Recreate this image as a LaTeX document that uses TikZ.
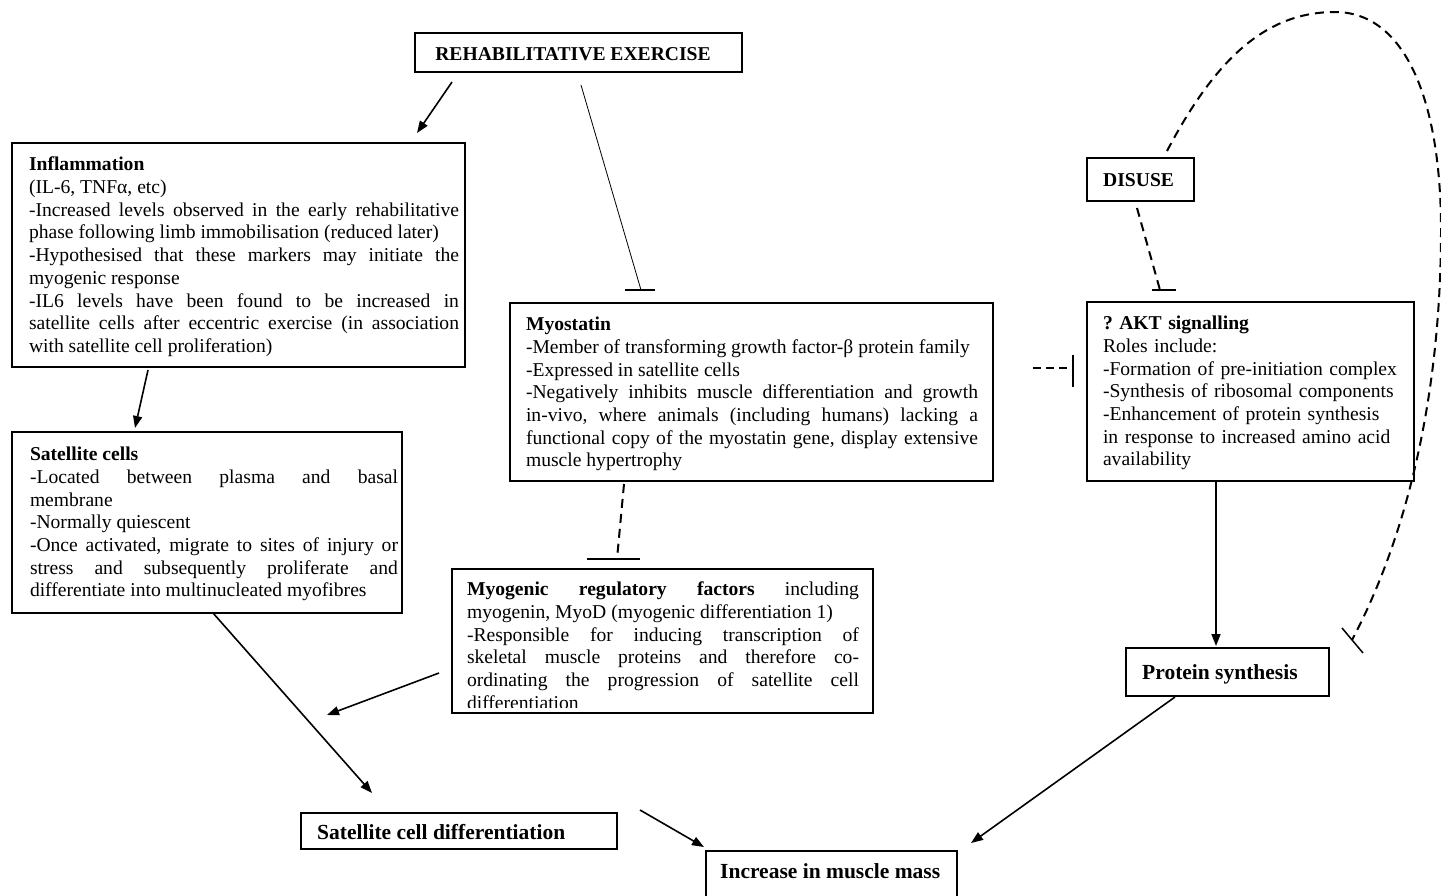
\documentclass[tikz,border=0pt]{standalone}
\usepackage{fontspec}
\setmainfont{Liberation Serif}
\usetikzlibrary{arrows.meta,calc}
\hyphenpenalty=10000
\frenchspacing
\begin{document}
\begin{tikzpicture}[x=1pt,y=-1pt,
  box/.style={draw, line width=1.1pt, anchor=north west, inner sep=0pt, outer sep=0pt},
  body/.style={anchor=north west, inner sep=0pt, outer sep=0pt, font=\fontsize{19.6}{22.7}\selectfont, align=justify},
  head/.style={inner sep=0pt, font=\fontsize{19.6}{22.7}\selectfont\bfseries},
  big/.style={anchor=base west, inner sep=0pt, font=\fontsize{21.5}{24}\selectfont\bfseries},
  arr/.style={line width=1.6pt, -{Triangle[length=12pt,width=9pt]}},
  inh/.style={line width=2pt, dash pattern=on 9pt off 6pt},
  tbar/.style={line width=1.5pt},
]
\useasboundingbox[fill=white] (0,0) rectangle (1441,895);

% boxes
\node[box, minimum width=327pt, minimum height=39pt] (rehab) at (415,33) {};
\node[box, minimum width=453pt, minimum height=224pt] (inf) at (12,143) {};
\node[box, minimum width=483pt, minimum height=178pt] (myo) at (510,303) {};
\node[box, minimum width=107pt, minimum height=43pt] (dis) at (1087,158) {};
\node[box, minimum width=327pt, minimum height=179pt] (akt) at (1087,302) {};
\node[box, minimum width=390pt, minimum height=181pt] (sat) at (12,432) {};
\node[box, minimum width=421pt, minimum height=144pt] (myog) at (452,569) {};
\node[box, minimum width=203pt, minimum height=48pt] (prot) at (1126,648) {};
\node[box, minimum width=316pt, minimum height=36pt] (satdiff) at (301,813) {};
\node[box, minimum width=251pt, minimum height=46pt] (inc) at (706,851) {};

% texts
\node[head, anchor=base] (rehabT) at (573,60) {REHABILITATIVE EXERCISE};
\node[head, anchor=base west] (disT) at (1103,186) {DISUSE};
\node[big] (protT) at (1142,679) {Protein synthesis};
\node[big] (satdiffT) at (317,839) {Satellite cell differentiation};
\node[big] (incT) at (720,878) {Increase in muscle mass};

\node[body, text width=430pt] (infT) at (29,157) {\textbf{Inflammation}\\
(IL-6, TNFα, etc)\\
-Increased levels observed in the early rehabilitative\linebreak
phase following limb immobilisation (reduced later)\\
-Hypothesised that these markers may initiate the\linebreak
myogenic response\\
-IL6 levels have been found to be increased in\linebreak
satellite cells after eccentric exercise (in association\linebreak
with satellite cell proliferation)};

\node[body, text width=452pt] (myoT) at (526,317) {\textbf{Myostatin}\\
-Member of transforming growth factor-β protein family\\
-Expressed in satellite cells\\
-Negatively inhibits muscle differentiation and growth\linebreak
in-vivo, where animals (including humans) lacking a\linebreak
functional copy of the myostatin gene, display extensive\linebreak
muscle hypertrophy};

\node[body, text width=310pt, align=left] (aktT) at (1103,316) {\textbf{? AKT signalling}\\
Roles include:\\
-Formation of pre-initiation complex\\
-Synthesis of ribosomal components\\
-Enhancement of protein synthesis\\
in response to increased amino acid\\
availability};

\node[body, text width=368pt] (satT) at (30,447) {\textbf{Satellite cells}\\
-Located between plasma and basal\linebreak
membrane\\
-Normally quiescent\\
-Once activated, migrate to sites of injury or\linebreak
stress and subsequently proliferate and\linebreak
differentiate into multinucleated myofibres};

\begin{scope}
\clip (440,560) rectangle (880,707);
\node[body, text width=392pt] (myogT) at (467,582) {\textbf{Myogenic regulatory factors} including\linebreak
myogenin, MyoD (myogenic differentiation 1)\\
-Responsible for inducing transcription of\linebreak
skeletal muscle proteins and therefore co-\linebreak
ordinating the progression of satellite cell\linebreak
differentiation};
\end{scope}

% connectors
\draw[arr] ($(rehab.south west)+(37,10)$) -- ($(inf.north east)+(-48,-10)$);
\draw[line width=0.8pt] ($(rehab.south west)+(166,13)$) -- ($(myo.north west)+(131,-13)$);
\draw[tbar] ($(myo.north west)+(115,-13)$) -- ($(myo.north west)+(145,-13)$);

\draw[arr] ($(inf.south west)+(136,3)$) -- ($(sat.north west)+(123,-4)$);

\draw[inh] ($(myo.south west)+(114,3)$) -- ($(myog.north west)+(165,-10)$);
\draw[tbar] ($(myog.north west)+(135,-10)$) -- ($(myog.north west)+(188,-10)$);

\draw[inh, line width=2.4pt, dash pattern=on 8pt off 5pt] ($(myo.north east)+(40,65)$) -- ($(akt.north west)+(-14,66)$);
\draw[tbar] ($(akt.north west)+(-14,53)$) -- ($(akt.north west)+(-14,85)$);

\draw[inh] ($(dis.south west)+(50,7)$) -- ($(akt.north west)+(73,-12)$);
\draw[tbar] ($(akt.north west)+(65,-12)$) -- ($(akt.north west)+(89,-12)$);

\draw[arr] ($(akt.south west)+(129,0)$) -- ($(prot.north west)+(90,-2)$);

\draw[inh] ($(dis.north west)+(80,-7)$) .. controls (1215,60) and (1265,12) .. (1335,12)
  .. controls (1405,12) and (1441,100) .. (1441,230)
  .. controls (1441,400) and (1405,540) .. ($(prot.north east)+(23,-8)$);
\draw[tbar] ($(prot.north east)+(13,-20)$) -- ($(prot.north east)+(34,5)$);

\draw[arr] ($(sat.south west)+(201,0)$) -- ($(satdiff.north west)+(71,-20)$);
\coordinate (mrfend) at (327,715);
\draw[arr] ($(myog.south west)+(-13,-40)$) -- (mrfend);
\draw[arr] ($(satdiff.north east)+(23,-3)$) -- ($(inc.north west)+(-2,-4)$);
\draw[arr] ($(prot.south west)+(49,1)$) -- ($(inc.north east)+(14,-8)$);
\end{tikzpicture}
\end{document}
